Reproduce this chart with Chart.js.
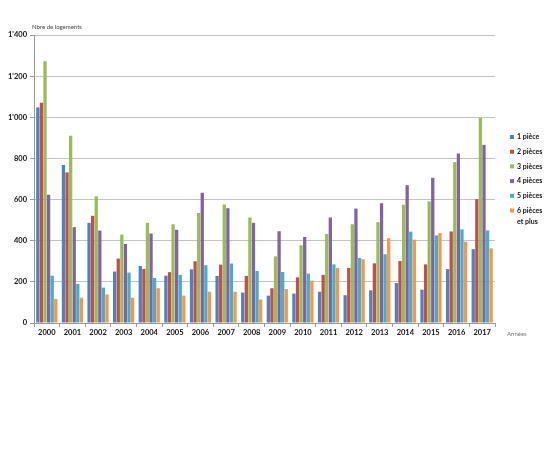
<!DOCTYPE html>
<html>
<head>
<meta charset="utf-8">
<script src="https://cdn.jsdelivr.net/npm/chart.js@4/dist/chart.umd.min.js"></script>
<style>
  html, body { margin: 0; padding: 0; background: #fff; }
  #wrap { width: 555px; height: 450px; position: relative; }
</style>
</head>
<body>
<div id="wrap"><canvas id="myChart"></canvas></div>
<script>
// Nombre de logements par nombre de pièces
const years = ['2000', '2001', '2002', '2003', '2004', '2005', '2006', '2007', '2008',
               '2009', '2010', '2011', '2012', '2013', '2014', '2015', '2016', '2017'];
const piece1 = [1048, 768, 487, 250, 277, 230, 261, 229, 148, 133, 143, 152, 135, 159, 194, 162, 262, 359];
const piece2 = [1071, 732, 521, 313, 263, 247, 300, 284, 229, 169, 222, 234, 268, 290, 301, 285, 445, 602];
const piece3 = [1273, 910, 616, 430, 487, 480, 535, 576, 513, 324, 378, 433, 480, 490, 575, 591, 782, 996];
const piece4 = [624, 466, 449, 384, 435, 453, 633, 558, 487, 446, 418, 513, 556, 582, 670, 706, 824, 866];
const piece5 = [230, 190, 172, 245, 219, 234, 281, 289, 253, 248, 240, 285, 316, 334, 444, 426, 455, 450];
const piece6 = [117, 123, 139, 123, 169, 133, 152, 152, 114, 165, 206, 268, 310, 412, 405, 437, 395, 363];
const seriesNames = ['1 pièce', '2 pièces', '3 pièces', '4 pièces', '5 pièces', '6 pièces\net plus'];
const yTickLabels = ['0', '200', '400', '600', '800', "1'000", "1'200", "1'400"];

const colors = ['#4F81BD', '#C0504D', '#9BBB59', '#8064A2', '#4BACC6', '#F79646'];
const allData = [piece1, piece2, piece3, piece4, piece5, piece6];

// legende et titres d'axes dessines a la main (style Excel)
const extras = {
    id: 'extras',
    afterDraw(chart) {
        const c = chart.ctx;
        const a = chart.chartArea;
        c.save();
        c.fillStyle = '#444';
        c.font = '6px Lato';
        c.textBaseline = 'middle';
        c.textAlign = 'left';
        c.fillText('Nbre de logements', a.left - 2, a.top - 8);
        c.fillStyle = '#777';
        c.fillText('Années', a.right + 12, a.bottom + 11);

        const step = 14.7;
        let y = a.top + 102;
        c.font = 'bold 7px Lato';
        chart.data.datasets.forEach((ds, i) => {
            const parts = seriesNames[i].split('\n');
            c.fillStyle = ds.backgroundColor;
            c.fillRect(a.right + 15, y - 2, 4, 4);
            c.fillStyle = '#111';
            parts.forEach((p, k) => {
                c.fillText(p, a.right + 22, y + k * 11);
            });
            y += step + (parts.length - 1) * 11;
        });
        c.restore();
    }
};

const ctx = document.getElementById('myChart');

new Chart(ctx, {
    type: 'bar',
    data: {
        labels: years,
        datasets: allData.map((d, i) => ({
            label: seriesNames[i].replace('\n', ' '),
            data: d,
            backgroundColor: colors[i],
            borderWidth: 0,
            barPercentage: 0.92,
            categoryPercentage: 0.84
        }))
    },
    options: {
        responsive: true,
        maintainAspectRatio: false,
        animation: false,
        layout: {
            padding: { left: 0, right: 60, top: 35, bottom: 107 }
        },
        plugins: {
            legend: { display: false },
            tooltip: { enabled: false }
        },
        scales: {
            x: {
                afterFit: s => { s.height = 20; },
                grid: {
                    drawOnChartArea: false,
                    drawTicks: true,
                    tickLength: 4,
                    color: '#999'
                },
                border: { color: '#999' },
                ticks: {
                    color: '#111',
                    font: { family: 'Lato', size: 7.5, weight: 'bold' },
                    padding: 1,
                    maxRotation: 0
                }
            },
            y: {
                min: 0,
                max: 1400,
                afterFit: s => { s.width = 34; },
                grid: {
                    color: '#C4C4C4',
                    tickLength: 4,
                    tickColor: '#999'
                },
                border: { color: '#999' },
                ticks: {
                    stepSize: 200,
                    color: '#111',
                    padding: 3,
                    font: { family: 'Lato', size: 7.5, weight: 'bold' },
                    callback: (v, i) => yTickLabels[i]
                }
            }
        }
    },
    plugins: [extras]
});
</script>
</body>
</html>
